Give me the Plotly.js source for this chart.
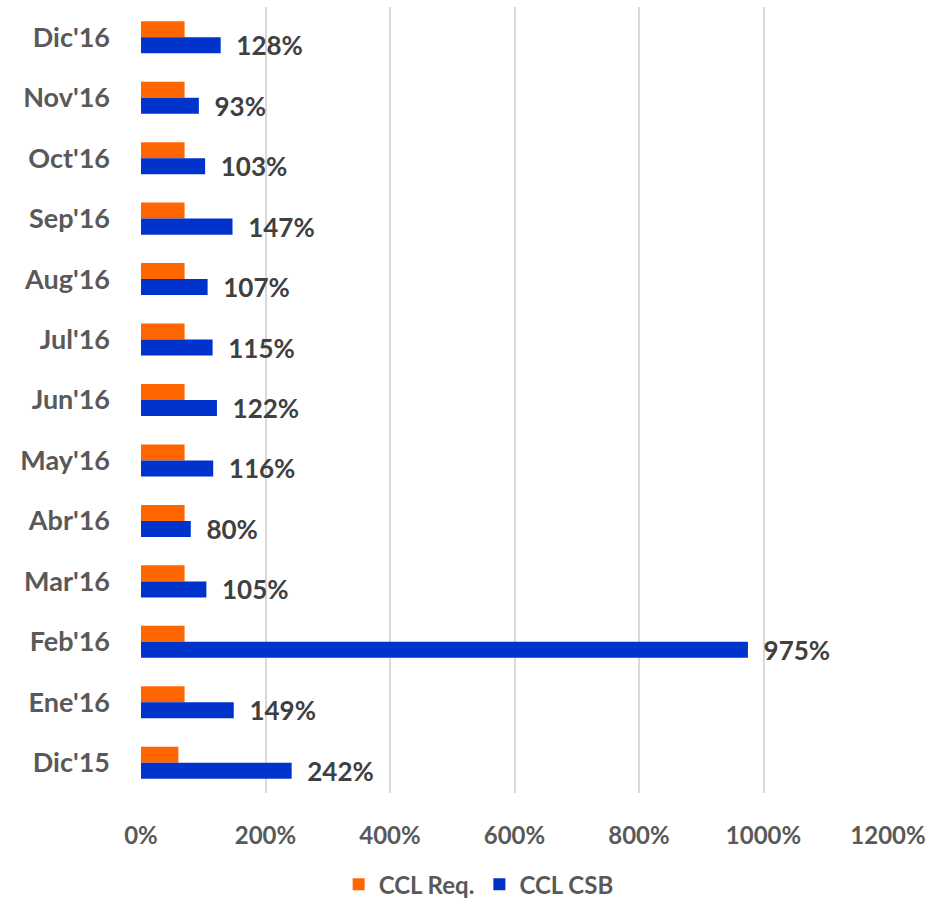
<!DOCTYPE html>
<html>
<head>
<meta charset="utf-8">
<script src="https://cdn.plot.ly/plotly-3.0.1.min.js"></script>
<style>body{margin:0;background:#fff;} #chart{width:928px;height:900px;}</style>
</head>
<body>
<div id="chart"></div>
<script>
var categories = ["Dic'16","Nov'16","Oct'16","Sep'16","Aug'16","Jul'16","Jun'16","May'16","Abr'16","Mar'16","Feb'16","Ene'16","Dic'15"];
var cclReq = [70,70,70,70,70,70,70,70,70,70,70,70,60];
var cclCsb = [128,93,103,147,107,115,122,116,80,105,975,149,242];
var xTickVals = [0,200,400,600,800,1000,1200];
var xTickText = ["0%","200%","400%","600%","800%","1000%","1200%"];

var font = "Lato, 'Open Sans', sans-serif";
var traces = [
  {type:'bar', orientation:'h', name:'CCL Req.', y:categories, x:cclReq,
   marker:{color:'#FF6600'}, hoverinfo:'skip'},
  {type:'bar', orientation:'h', name:'CCL CSB', y:categories, x:cclCsb,
   marker:{color:'#0033CC'},
   text: cclCsb.map(function(v){return '\u00a0\u00a0'+v+'%';}),
   textposition:'outside', cliponaxis:false, constraintext:'none',
   textfont:{family:font, size:26, color:'#404040', weight:'bold'}, hoverinfo:'skip'}
];
var layout = {
  width:928, height:900,
  margin:{l:141, r:40, t:7, b:107, autoexpand:false},
  paper_bgcolor:'#fff', plot_bgcolor:'#fff',
  barmode:'group', bargap:0.47, bargroupgap:0,
  font:{family:font, color:'#595959'},
  xaxis:{range:[0,1200], tickvals:xTickVals, ticktext:xTickText, automargin:false,
    showgrid:true, gridcolor:'#d9d9d9', gridwidth:2, zeroline:false,
    showline:false, ticks:'', ticklabelstandoff:26,
    tickfont:{family:font, size:24, color:'#595959', weight:'bold'}},
  yaxis:{autorange:'reversed', type:'category', showgrid:false, zeroline:false, automargin:false,
    showline:false, ticks:'', ticklabelstandoff:30,
    tickfont:{family:font, size:27, color:'#595959', weight:'bold'}},
  showlegend:true,
  legend:{orientation:'h', x:0.452, xanchor:'center', yref:'container', y:0.017, yanchor:'middle',
    font:{family:font, size:24, color:'#595959', weight:'bold'}, itemwidth:30}
};
Plotly.newPlot('chart', traces, layout, {displayModeBar:false, staticPlot:true});
</script>
</body>
</html>
